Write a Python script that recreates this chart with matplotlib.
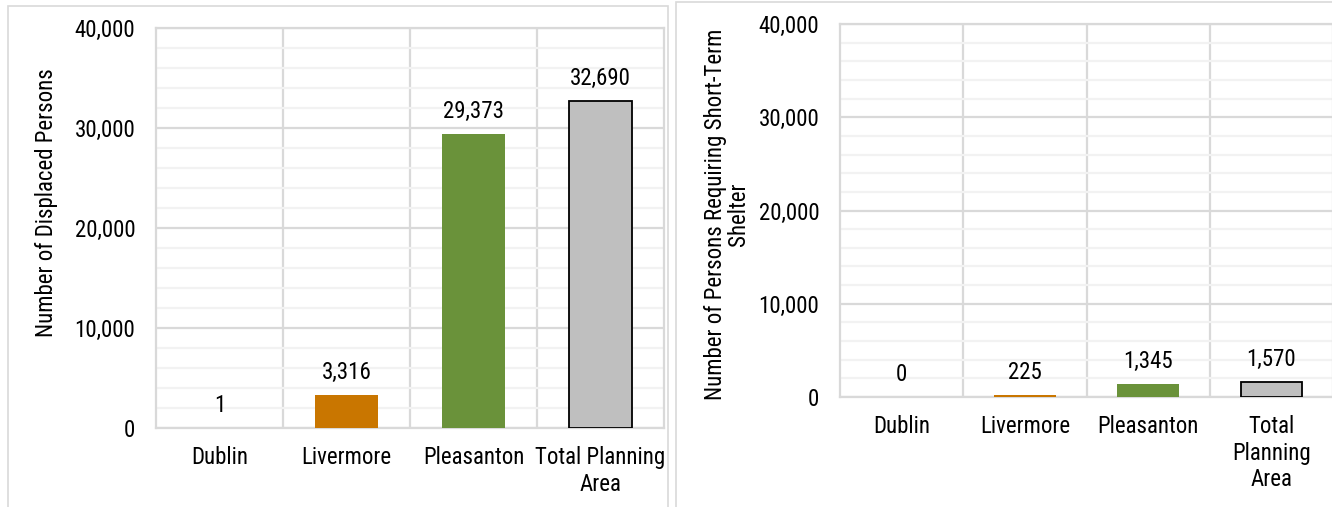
import matplotlib
matplotlib.use("Agg")
import matplotlib.pyplot as plt
import matplotlib.ticker as ticker
from matplotlib.patches import Rectangle

plt.rcParams['font.family'] = ['Roboto Condensed', 'Liberation Sans', 'DejaVu Sans']

# displaced persons by jurisdiction
places = ["Dublin", "Livermore", "Pleasanton", "Total Planning\nArea"]
displaced = [1, 3316, 29373, 32690]

# persons needing short-term shelter
places_shelter = ["Dublin", "Livermore", "Pleasanton", "Total\nPlanning\nArea"]
shelter = [0, 225, 1345, 1570]

bar_colors = ["#C97600", "#C97600", "#6A923A", "#BFBFBF"]
bar_edges = ["none", "none", "none", "black"]

W, H = 1332, 507
fig = plt.figure(figsize=(W / 100, H / 100), dpi=100)

# chart frames
fig.patches.append(Rectangle((8 / W, -0.1), 660 / W, 1.1 - 6 / H, transform=fig.transFigure,
                             fill=False, edgecolor="#D9D9D9", lw=1.2))
fig.patches.append(Rectangle((676 / W, -0.1), 0.6, 1.1 - 2 / H, transform=fig.transFigure,
                             fill=False, edgecolor="#D9D9D9", lw=1.2))


def draw_bars(ax, labels, vals, ylabel, label_xy):
    x = range(len(vals))
    ax.bar(x, vals, width=0.5, color=bar_colors, edgecolor=bar_edges, linewidth=1.3, zorder=3)
    for i, v in enumerate(vals):
        ax.annotate(f"{v:,}", (i, v), xytext=(0, 8), textcoords="offset points",
                    ha="center", va="bottom", fontsize=16.5, color="black")
    ax.set_xlim(-0.5, len(vals) - 0.5)
    ax.set_ylim(0, 40000)
    ax.set_xticks(list(x))
    ax.set_xticklabels(labels, fontsize=16.5, linespacing=1.2)
    ax.set_xticks([i + 0.5 for i in range(len(vals) - 1)], minor=True)
    ax.yaxis.set_major_locator(ticker.MultipleLocator(10000))
    ax.yaxis.set_minor_locator(ticker.MultipleLocator(2000))
    ax.yaxis.set_major_formatter(ticker.FuncFormatter(lambda v, p: f"{int(v):,}"))
    ax.tick_params(axis="y", which="both", length=0, labelsize=16.5, pad=15)
    ax.tick_params(axis="x", which="both", length=0, pad=13)
    ax.yaxis.grid(True, which="minor", color="#F2F2F2", lw=1.6, zorder=0)
    ax.yaxis.grid(True, which="major", color="#D9D9D9", lw=1.6, zorder=1)
    ax.xaxis.grid(True, which="minor", color="#D9D9D9", lw=1.6, zorder=1)
    ax.xaxis.grid(False, which="major")
    for s in ax.spines.values():
        s.set_color("#D9D9D9")
        s.set_linewidth(1.6)
    ax.set_ylabel(ylabel, fontsize=16.5, linespacing=1.0)
    ax.yaxis.set_label_coords(*label_xy)


ax1 = fig.add_axes([156 / W, 1 - 428 / H, 508 / W, 400 / H])
draw_bars(ax1, places, displaced, "Number of Displaced Persons", (-0.192, 0.5625))

ax2 = fig.add_axes([840 / W, 1 - 397 / H, 493 / W, 373 / H])
draw_bars(ax2, places_shelter, shelter,
          "Number of Persons Requiring Short-Term\nShelter", (-0.182, 0.49))

fig.savefig("out.png", dpi=100)
